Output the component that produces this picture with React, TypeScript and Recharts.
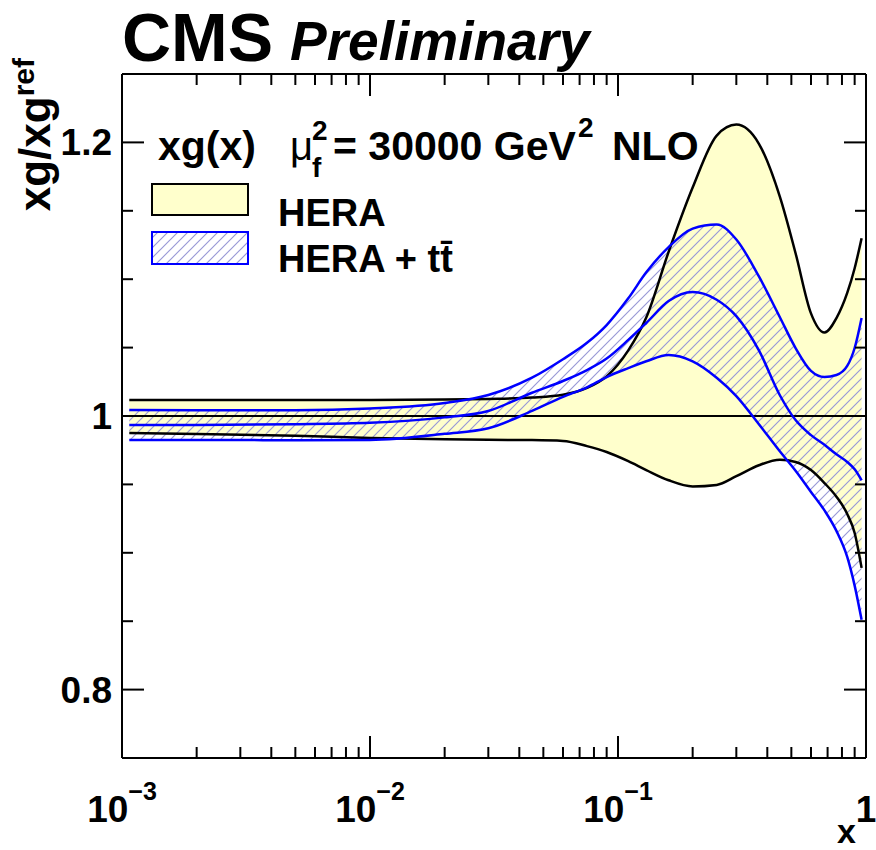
import React from "react";
import { ComposedChart, Line, Area, XAxis, YAxis } from "recharts";

// x grid shared by all curves
const xs = [0.00107, 0.002, 0.005, 0.01, 0.02, 0.03, 0.045, 0.06, 0.075, 0.09, 0.11, 0.13, 0.16, 0.2, 0.25, 0.3, 0.37, 0.45, 0.52, 0.6, 0.68, 0.76, 0.84, 0.9, 0.96];

// HERA band (xg / xg_ref)
const heraUp = [1.0117, 1.0117, 1.0117, 1.0117, 1.012, 1.0125, 1.0135, 1.0155, 1.0205, 1.029, 1.048, 1.072, 1.12, 1.167, 1.205, 1.213, 1.199, 1.16, 1.119, 1.075, 1.061, 1.0716, 1.09, 1.108, 1.13];
const heraLow = [0.9876, 0.9868, 0.9855, 0.984, 0.983, 0.9826, 0.9824, 0.9818, 0.978, 0.9737, 0.967, 0.9605, 0.953, 0.9485, 0.9496, 0.956, 0.964, 0.968, 0.9664, 0.9605, 0.951, 0.941, 0.9284, 0.9145, 0.889];
const heraMidX = [0.00107, 0.96];
const heraMid = [1.0, 1.0];

// HERA + ttbar band
const ttUp = [1.0044, 1.0042, 1.0042, 1.0055, 1.0095, 1.0154, 1.028, 1.0415, 1.0535, 1.0665, 1.086, 1.105, 1.1235, 1.137, 1.14, 1.129, 1.102, 1.072, 1.0497, 1.033, 1.0285, 1.03, 1.0366, 1.0497, 1.0717];
const ttMid = [0.9934, 0.9935, 0.994, 0.995, 0.999, 1.0037, 1.017, 1.0256, 1.0336, 1.042, 1.0556, 1.068, 1.084, 1.0906, 1.085, 1.073, 1.048, 1.015, 0.997, 0.986, 0.979, 0.972, 0.9664, 0.961, 0.953];
const ttLow = [0.9825, 0.9825, 0.9823, 0.9825, 0.987, 0.991, 1.0037, 1.014, 1.021, 1.0285, 1.035, 1.04, 1.0446, 1.04, 1.028, 1.0146, 0.994, 0.974, 0.96, 0.9445, 0.931, 0.916, 0.897, 0.876, 0.851];

// axes
const xMajor = [0.001, 0.01, 0.1, 1];
const xMajorExp = ["\u22123", "\u22122", "\u22121", ""];
const xMinor = [
  0.002, 0.003, 0.004, 0.005, 0.006, 0.007, 0.008, 0.009,
  0.02, 0.03, 0.04, 0.05, 0.06, 0.07, 0.08, 0.09,
  0.2, 0.3, 0.4, 0.5, 0.6, 0.7, 0.8, 0.9,
];
const yMajor = [0.8, 1, 1.2];
const yMajorLabels = ["0.8", "1", "1.2"];
const yMinor = [0.85, 0.9, 0.95, 1.05, 1.1, 1.15];

const FONT = "'Liberation Sans', Arial, Helvetica, sans-serif";
const YELLOW = "#ffffcc";
const BLUE = "#0000ff";
const HATCH = "#9a9ad6";

const W = 876;
const H = 850;
// axes are 1px thick, so the plot box is 122..866 x 74..758
const MARGIN = { top: 73, right: 9, bottom: 91, left: 121 };

const band = (lo: number[], hi: number[]) => xs.map((x, i) => ({ x, r: [lo[i], hi[i]] }));
const curve = (ys: number[], xv: number[] = xs) => xv.map((x, i) => ({ x, y: ys[i] }));

function makeXTick(side: "bottom" | "top") {
  return function XTick(props: any) {
    const { x, y, payload } = props;
    const mi = xMajor.indexOf(payload.value);
    const len = mi >= 0 ? 22 : 11;
    const dir = side === "top" ? 1 : -1;
    return (
      <g>
        <line x1={x} x2={x} y1={y} y2={y + dir * len} stroke="#000" strokeWidth={2} />
        {side === "bottom" && mi >= 0 && (
          <text x={x} y={y + 64} textAnchor="middle" fontFamily={FONT} fontWeight="bold" fontSize={37} fill="#000">
            {xMajorExp[mi] ? "10" : "1"}
            {xMajorExp[mi] && (
              <tspan dy={-22} fontSize={25}>{xMajorExp[mi]}</tspan>
            )}
          </text>
        )}
      </g>
    );
  };
}

function makeYTick(side: "left" | "right") {
  return function YTick(props: any) {
    const { x, y, payload } = props;
    const mi = yMajor.indexOf(payload.value);
    const len = mi >= 0 ? 22 : 11;
    const dir = side === "left" ? 1 : -1;
    return (
      <g>
        <line x1={x} x2={x + dir * len} y1={y} y2={y} stroke="#000" strokeWidth={2} />
        {side === "left" && mi >= 0 && (
          <text x={x - 10} y={y + 13} textAnchor="end" fontFamily={FONT} fontWeight="bold" fontSize={37} fill="#000">
            {yMajorLabels[mi]}
          </text>
        )}
      </g>
    );
  };
}

const BottomTick = makeXTick("bottom");
const TopTick = makeXTick("top");
const LeftTick = makeYTick("left");
const RightTick = makeYTick("right");

const axisLine = { stroke: "#000", strokeWidth: 2 };

export default function App() {
  const xTicks = [...xMajor, ...xMinor];
  const yTicks = [...yMajor, ...yMinor];
  const common = { xAxisId: "b", yAxisId: "l", isAnimationActive: false, dot: false, activeDot: false } as any;

  return (
    <div style={{ position: "absolute", left: 0, top: 0, width: W, height: H, background: "#fff" }}>
      <svg width={0} height={0} style={{ position: "absolute" }}>
        <defs>
          <pattern id="hatch" patternUnits="userSpaceOnUse" width={10} height={10}>
            <path d="M-1,1 L1,-1 M0,10 L10,0 M9,11 L11,9" stroke={HATCH} strokeWidth={1.2} />
          </pattern>
        </defs>
      </svg>

      <ComposedChart width={W} height={H} margin={MARGIN}>
        <XAxis
          xAxisId="b" dataKey="x" type="number" scale="log" domain={[0.001, 1]} allowDataOverflow
          ticks={xTicks} interval={0} height={1} tickSize={0} tickMargin={0} tickLine={false}
          axisLine={axisLine} tick={<BottomTick />}
        />
        <XAxis
          xAxisId="t" orientation="top" dataKey="x" type="number" scale="log" domain={[0.001, 1]} allowDataOverflow
          ticks={xTicks} interval={0} height={1} tickSize={0} tickMargin={0} tickLine={false}
          axisLine={axisLine} tick={<TopTick />}
        />
        <YAxis
          yAxisId="l" type="number" domain={[0.75, 1.25]} allowDataOverflow
          ticks={yTicks} interval={0} width={1} tickSize={0} tickMargin={0} tickLine={false}
          axisLine={axisLine} tick={<LeftTick />}
        />
        <YAxis
          yAxisId="r" orientation="right" type="number" domain={[0.75, 1.25]} allowDataOverflow
          ticks={yTicks} interval={0} width={1} tickSize={0} tickMargin={0} tickLine={false}
          axisLine={axisLine} tick={<RightTick />}
        />

        <Area {...common} data={band(heraLow, heraUp)} dataKey="r" type="monotone" fill={YELLOW} fillOpacity={1} stroke="none" />
        <Line {...common} data={curve(heraUp)} dataKey="y" type="monotone" stroke="#000" strokeWidth={2.5} />
        <Line {...common} data={curve(heraLow)} dataKey="y" type="monotone" stroke="#000" strokeWidth={2.5} />
        <Area {...common} data={band(ttLow, ttUp)} dataKey="r" type="monotone" fill="url(#hatch)" fillOpacity={1} stroke="none" />
        <Line {...common} data={curve(heraMid, heraMidX)} dataKey="y" type="linear" stroke="#000" strokeWidth={2} />
        <Line {...common} data={curve(ttUp)} dataKey="y" type="monotone" stroke={BLUE} strokeWidth={2.5} />
        <Line {...common} data={curve(ttMid)} dataKey="y" type="monotone" stroke={BLUE} strokeWidth={2.5} />
        <Line {...common} data={curve(ttLow)} dataKey="y" type="monotone" stroke={BLUE} strokeWidth={2.5} />
      </ComposedChart>

      <svg width={W} height={H} style={{ position: "absolute", left: 0, top: 0, pointerEvents: "none" }}
        fontFamily={FONT} fontWeight="bold" fill="#000">
        <text x={122} y={61} fontSize={68}>CMS</text>
        <text x={290} y={60} fontSize={55} fontStyle="italic">Preliminary</text>

        <text transform="translate(50,58) rotate(-90)" textAnchor="end" fontSize={44}>
          xg/xg<tspan dy={-16} fontSize={30}>ref</tspan>
        </text>
        <text x={856} y={843} textAnchor="end" fontSize={34}>x</text>

        <text x={158} y={160} fontSize={41}>xg(x)</text>
        <text x={290} y={160} fontSize={40} fontWeight="normal">{"\u03bc"}</text>
        <text x={312} y={177} fontSize={28}>f</text>
        <text x={312} y={140} fontSize={28}>2</text>
        <text x={333} y={160} fontSize={41}>= 30000 GeV</text>
        <text x={578} y={137} fontSize={28}>2</text>
        <text x={612} y={160} fontSize={41}>NLO</text>

        <rect x={152} y={184} width={96} height={31} fill={YELLOW} stroke="#000" strokeWidth={2} />
        <text x={278} y={226} fontSize={38}>HERA</text>
        <rect x={152} y={232} width={96} height={32} fill="url(#hatch)" stroke={BLUE} strokeWidth={2} />
        <text x={278} y={272} fontSize={38}>HERA + t{"t\u0304"}</text>
      </svg>
    </div>
  );
}
